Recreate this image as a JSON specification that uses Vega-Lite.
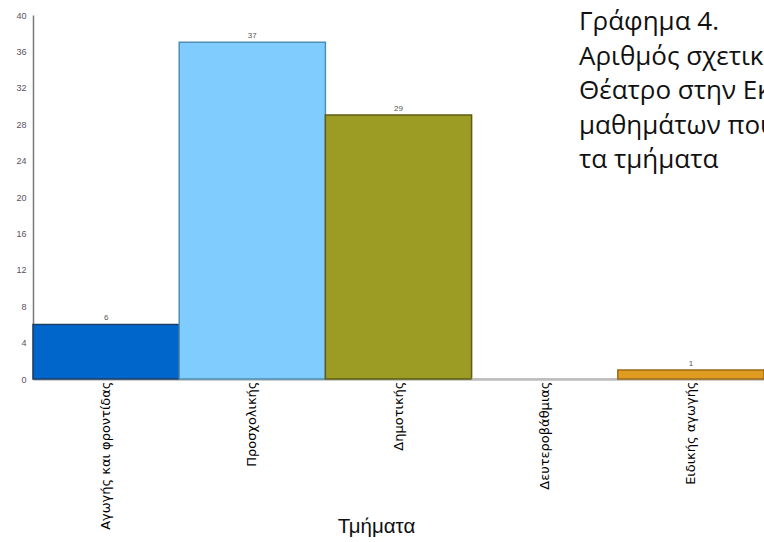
{
  "$schema": "https://vega.github.io/schema/vega-lite/v6.json",
  "autosize": "none",
  "width": 731,
  "height": 364,
  "padding": {"left": 33, "top": 15, "right": 0, "bottom": 163},
  "background": "white",
  "view": {"stroke": null},
  "title": {
    "text": ["Γράφημα 4.", "Αριθμός σχετικών με το", "Θέατρο στην Εκπαίδευση", "μαθημάτων που προσφέρουν", "τα τμήματα"],
    "anchor": "start",
    "frame": "group",
    "orient": "top",
    "baseline": "top",
    "offset": 0,
    "dx": 546,
    "dy": 162,
    "font": "Open Sans",
    "fontSize": 26,
    "fontWeight": "normal",
    "color": "#111111",
    "lineHeight": 34.5
  },
  "data": {
    "values": [
      {"tmima": "Αγωγής και φροντίδας", "n": 6},
      {"tmima": "Προσχολικής", "n": 37},
      {"tmima": "Δημοτικής", "n": 29},
      {"tmima": "Δευτεροβάθμιας", "n": 0},
      {"tmima": "Ειδικής αγωγής", "n": 1}
    ]
  },
  "encoding": {
    "x": {
      "field": "tmima",
      "type": "nominal",
      "sort": null,
      "scale": {"paddingInner": 0, "paddingOuter": 0},
      "axis": {
        "title": "Τμήματα",
        "titleFont": "Liberation Sans",
        "titleFontSize": 20.5,
        "titleFontWeight": "normal",
        "titleColor": "#111111",
        "titleX": 343,
        "titleY": 137,
        "titleBaseline": "top",
        "labelAngle": -90,
        "labelFont": "DejaVu Sans",
        "labelFontSize": 13,
        "labelColor": "#000000",
        "labelPadding": 2,
        "labelLimit": 0,
        "ticks": false,
        "domainColor": "#bdbdbd",
        "domainWidth": 2.5,
        "grid": false
      }
    },
    "y": {
      "field": "n",
      "type": "quantitative",
      "scale": {"domain": [0, 40], "nice": false},
      "axis": {
        "title": null,
        "values": [0, 4, 8, 12, 16, 20, 24, 28, 32, 36, 40],
        "labelFont": "Liberation Sans",
        "labelFontSize": 9,
        "labelColor": "#5a5060",
        "labelPadding": 7,
        "ticks": false,
        "grid": false,
        "domainColor": "#7a7a7a",
        "domainWidth": 1.5
      }
    }
  },
  "layer": [
    {
      "mark": {"type": "bar", "strokeWidth": 1.5},
      "encoding": {
        "color": {
          "field": "tmima",
          "type": "nominal",
          "sort": null,
          "scale": {
            "domain": ["Αγωγής και φροντίδας", "Προσχολικής", "Δημοτικής", "Δευτεροβάθμιας", "Ειδικής αγωγής"],
            "range": ["#0066cc", "#80ccff", "#9c9c24", "#bdbdbd", "#e09c20"]
          },
          "legend": null
        },
        "stroke": {
          "field": "tmima",
          "type": "nominal",
          "sort": null,
          "scale": {
            "domain": ["Αγωγής και φροντίδας", "Προσχολικής", "Δημοτικής", "Δευτεροβάθμιας", "Ειδικής αγωγής"],
            "range": ["#1c3f66", "#4f8fb3", "#5c5c14", "#bdbdbd", "#9c6a14"]
          },
          "legend": null
        }
      }
    },
    {
      "mark": {"type": "text", "baseline": "bottom", "dy": -2, "font": "Liberation Sans", "fontSize": 8, "color": "#555555"},
      "transform": [{"filter": "datum.n > 0"}],
      "encoding": {"text": {"field": "n", "type": "quantitative"}}
    }
  ]
}
